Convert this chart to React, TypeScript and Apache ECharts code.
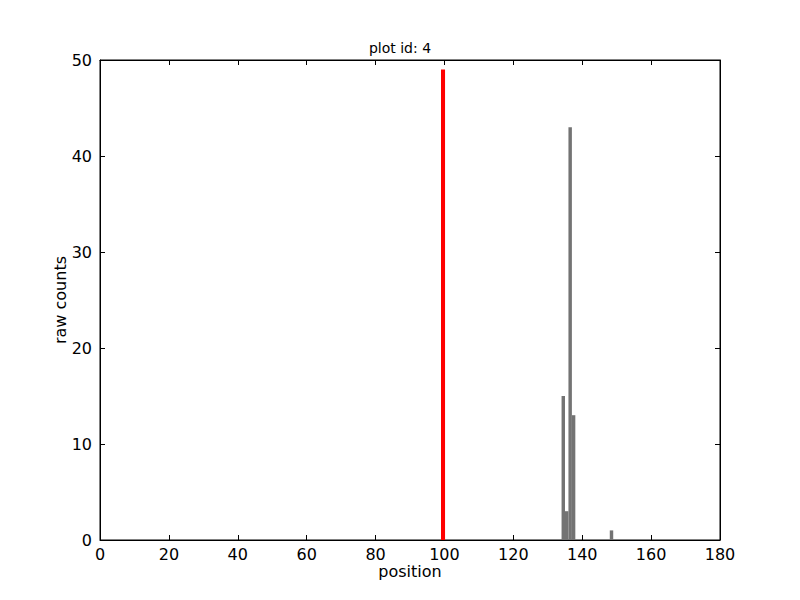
import React, { useEffect, useRef } from "react";
import * as echarts from "echarts";

const redPositions = [99];
const redCounts = [49];
const grayPositions = [134, 135, 136, 137, 148];
const grayCounts = [15, 3, 43, 13, 1];
const xTicks = [0, 20, 40, 60, 80, 100, 120, 140, 160, 180];
const yTicks = [0, 10, 20, 30, 40, 50];

const FONT = "DejaVu Sans";

function barItem(color: string, extra: number) {
  return (params: any, api: any) => {
    const x0 = api.value(0);
    const h = api.value(1);
    const p0 = api.coord([x0, h]);
    const p1 = api.coord([x0 + 1, 0]);
    return {
      type: "rect",
      shape: { x: p0[0], y: p0[1], width: p1[0] - p0[0] + extra, height: p1[1] - p0[1] },
      style: { fill: color },
    };
  };
}

export default function App() {
  const ref = useRef<HTMLDivElement>(null);
  useEffect(() => {
    const chart = echarts.init(ref.current!, null, { renderer: "svg" });
    const axisCommon = {
      axisLine: { show: true, onZero: false, lineStyle: { color: "#000", width: 1 } },
      axisTick: { show: true, inside: true, length: 5, lineStyle: { color: "#000" } },
      splitLine: { show: false },
    };
    chart.setOption({
      animation: false,
      backgroundColor: "#fff",
      title: {
        text: "plot id: 4",
        left: "center",
        top: 36,
        textStyle: { fontFamily: FONT, fontSize: 14, fontWeight: "normal", color: "#000" },
      },
      grid: { left: 100, right: 80, top: 60, bottom: 60, show: true, borderColor: "#000", borderWidth: 1 },
      xAxis: [
        {
          type: "value",
          min: xTicks[0],
          max: xTicks[xTicks.length - 1],
          interval: 20,
          position: "bottom",
          name: "position",
          nameLocation: "middle",
          nameGap: 23,
          nameMoveOverlap: false,
          nameTextStyle: { fontFamily: FONT, fontSize: 16, color: "#000" },
          axisLabel: { fontFamily: FONT, fontSize: 16, color: "#000", margin: 6 },
          ...axisCommon,
        },
        {
          type: "value",
          min: xTicks[0],
          max: xTicks[xTicks.length - 1],
          interval: 20,
          position: "top",
          axisLabel: { show: false },
          ...axisCommon,
        },
      ],
      yAxis: [
        {
          type: "value",
          min: yTicks[0],
          max: yTicks[yTicks.length - 1],
          interval: 10,
          position: "left",
          name: "raw counts",
          nameLocation: "middle",
          nameGap: 32,
          nameMoveOverlap: false,
          nameTextStyle: { fontFamily: FONT, fontSize: 16, color: "#000" },
          axisLabel: { fontFamily: FONT, fontSize: 16, color: "#000", margin: 8 },
          ...axisCommon,
        },
        {
          type: "value",
          min: yTicks[0],
          max: yTicks[yTicks.length - 1],
          interval: 10,
          position: "right",
          axisLabel: { show: false },
          ...axisCommon,
        },
      ],
      series: [
        {
          type: "custom",
          xAxisIndex: 0,
          yAxisIndex: 0,
          renderItem: barItem("#ff0000", 0.6),
          data: redPositions.map((p, i) => [p, redCounts[i]]),
          encode: { x: 0, y: 1 },
        },
        {
          type: "custom",
          xAxisIndex: 0,
          yAxisIndex: 0,
          renderItem: barItem("#737373", 0),
          data: grayPositions.map((p, i) => [p, grayCounts[i]]),
          encode: { x: 0, y: 1 },
        },
      ],
    });
    return () => chart.dispose();
  }, []);
  return <div ref={ref} style={{ width: 800, height: 600, position: "absolute", left: 0, top: 0 }} />;
}
